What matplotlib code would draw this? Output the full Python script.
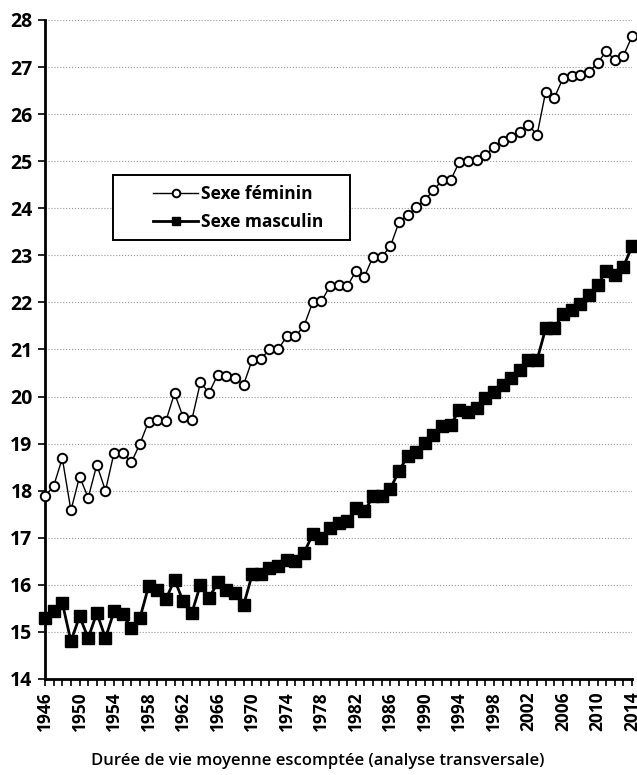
import matplotlib
matplotlib.use("Agg")
import matplotlib.pyplot as plt
from matplotlib.patches import Rectangle

# Données
years = list(range(1946, 2015))

feminin = [
    17.88, 18.10, 18.69, 17.58, 18.30, 17.85, 18.55, 18.00, 18.81, 18.81,
    18.60, 19.00, 19.47, 19.50, 19.48, 20.07, 19.56, 19.50, 20.30, 20.08,
    20.46, 20.44, 20.39, 20.25, 20.78, 20.80, 21.00, 21.00, 21.28, 21.28,
    21.50, 22.00, 22.02, 22.34, 22.37, 22.34, 22.66, 22.55, 22.97, 22.97,
    23.19, 23.70, 23.86, 24.02, 24.18, 24.38, 24.60, 24.60, 24.99, 25.00,
    25.03, 25.13, 25.30, 25.42, 25.52, 25.63, 25.77, 25.56, 26.48, 26.35,
    26.76, 26.81, 26.83, 26.90, 27.08, 27.34, 27.15, 27.24, 27.65,
]

masculin = [
    15.30, 15.44, 15.62, 14.80, 15.33, 14.87, 15.40, 14.87, 15.44, 15.37,
    15.08, 15.30, 15.97, 15.90, 15.69, 16.11, 15.65, 15.40, 16.00, 15.72,
    16.05, 15.90, 15.83, 15.57, 16.22, 16.22, 16.36, 16.40, 16.53, 16.50,
    16.68, 17.07, 17.00, 17.21, 17.31, 17.35, 17.63, 17.56, 17.88, 17.88,
    18.04, 18.42, 18.73, 18.83, 19.01, 19.19, 19.37, 19.40, 19.72, 19.68,
    19.75, 19.96, 20.10, 20.25, 20.39, 20.57, 20.78, 20.78, 21.45, 21.45,
    21.76, 21.84, 21.96, 22.16, 22.37, 22.66, 22.59, 22.76, 23.19,
]

label_years = list(range(1946, 2015, 4))
y_ticks = list(range(14, 29))

plt.rcParams["font.family"] = ["Open Sans", "DejaVu Sans"]

fig = plt.figure(figsize=(6.37, 7.75), dpi=100)
ax = fig.add_axes([0.0707, 0.1239, 0.9215, 0.8503])

ax.plot(years, feminin, color="black", linewidth=1.0, marker="o",
        markersize=6.8, markerfacecolor="white", markeredgecolor="black",
        markeredgewidth=1.4, label="Sexe féminin", clip_on=False, zorder=3)
ax.plot(years, masculin, color="black", linewidth=2.0, marker="s",
        markersize=8, markerfacecolor="black", markeredgecolor="black",
        label="Sexe masculin", clip_on=False, zorder=3)

ax.set_xlim(1946, 2014)
ax.set_ylim(14, 28)
ax.set_yticks(y_ticks)
ax.set_yticklabels([str(v) for v in y_ticks], fontsize=14, fontweight="bold")

ax.set_xticks(years)
ax.set_xticklabels([str(y) if y in label_years else "" for y in years],
                   rotation=90, fontsize=12.5, fontweight="bold")
ax.tick_params(axis="x", length=5, width=1.2, pad=4)
ax.tick_params(axis="y", length=5, width=1.2, pad=4)

ax.grid(axis="y", color="#999999", linestyle=":", linewidth=0.8)
ax.set_axisbelow(True)

for side in ["top", "right"]:
    ax.spines[side].set_visible(False)
ax.spines["left"].set_linewidth(2)
ax.spines["bottom"].set_linewidth(2)

ax.set_xlabel("Durée de vie moyenne escomptée (analyse transversale)",
              fontsize=12, fontweight="semibold")
ax.xaxis.set_label_coords(0.465, -0.112)

# cadre de la légende
ax.add_patch(Rectangle((0.1158, 0.6662), 0.404, 0.0986, transform=ax.transAxes,
                       facecolor="white", edgecolor="black", linewidth=1.4,
                       zorder=4))
leg = ax.legend(loc="center left", bbox_to_anchor=(0.184, 0.7147),
                borderaxespad=0, borderpad=0, frameon=False,
                fontsize=12.5, handlelength=2.6, labelspacing=0.55,
                handletextpad=0.15)
leg.set_zorder(5)
for t in leg.get_texts():
    t.set_fontweight("bold")
for h in leg.legend_handles:
    h.set_markersize(5.5)

fig.savefig("out.png", dpi=100)
